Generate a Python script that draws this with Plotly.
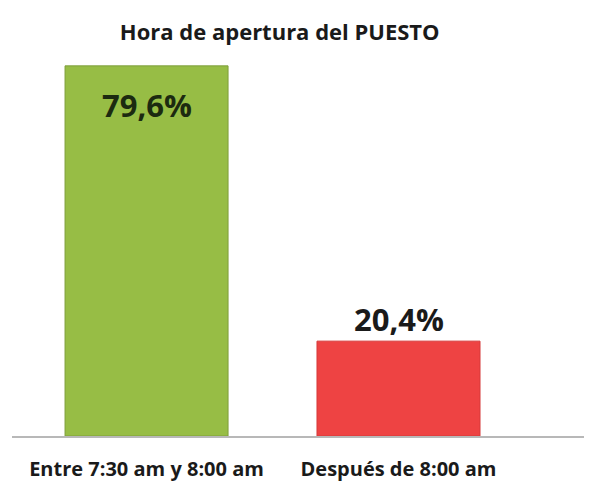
import plotly.graph_objects as go

categories = ["Entre 7:30 am y 8:00 am", "Después de 8:00 am"]
values = [79.6, 20.4]
value_labels = ["79,6%", "20,4%"]
bar_colors = ["#97bd45", "#ee4343"]
label_colors = ["#1c2a10", "#1a1a1a"]
label_shifts = [-39, 22]

fig = go.Figure()
fig.add_trace(go.Bar(
    x=[0, 1], y=values,
    marker=dict(color=bar_colors, line=dict(color=["#7e9e3a", "#d63a3a"], width=1)),
    hoverinfo="skip",
))

for i, (v, t) in enumerate(zip(values, value_labels)):
    fig.add_annotation(
        x=i, y=v, text=f"<b>{t}</b>", showarrow=False,
        yanchor="middle", yshift=label_shifts[i],
        font=dict(family="Open Sans", size=31, color=label_colors[i]),
    )

fig.update_layout(
    width=592, height=489,
    margin=dict(l=4, r=8, t=52, b=61),
    paper_bgcolor="white", plot_bgcolor="white",
    bargap=0.353,
    showlegend=False,
    title=dict(
        text="<b>Hora de apertura del PUESTO</b>",
        x=0.459, xanchor="center", y=0.951, yanchor="middle",
        font=dict(family="Open Sans", size=22, color="#1a1a1a"),
    ),
    xaxis=dict(
        range=[-0.534, 1.768],
        tickmode="array", tickvals=[0, 1],
        ticktext=[f"<b>{c}</b>" for c in categories],
        tickfont=dict(family="Open Sans", size=20, color="#1a1a1a"),
        showline=True, linecolor="#b8b8b8", linewidth=1.5,
        showgrid=False, zeroline=False, ticks="",
        ticklabelstandoff=14,
    ),
    yaxis=dict(
        range=[0, 80.86], visible=False, showgrid=False, zeroline=False,
    ),
)

fig.write_html("out.html")
